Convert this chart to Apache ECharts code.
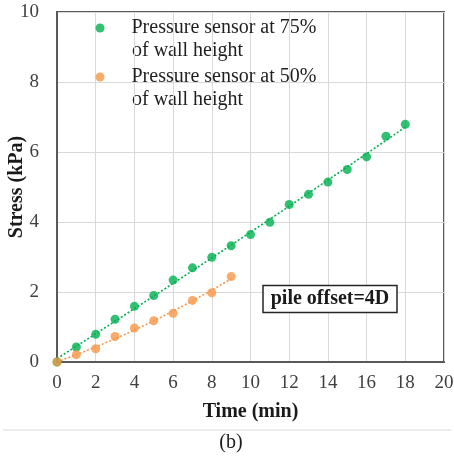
<!DOCTYPE html>
<html><head><meta charset="utf-8">
<script src="https://cdn.jsdelivr.net/npm/echarts@6/dist/echarts.min.js"></script>
<style>html,body{margin:0;padding:0;background:#fff}#c{width:454px;height:461px}</style>
</head><body><div id="c"></div>
<script>
const time75 = [0,1,2,3,4,5,6,7,8,9,10,11,12,13,14,15,16,17,18];
const stress75 = [0,0.43,0.79,1.22,1.59,1.90,2.34,2.69,2.99,3.32,3.64,3.99,4.50,4.79,5.14,5.50,5.86,6.45,6.79];
const time50 = [0,1,2,3,4,5,6,7,8,9];
const stress50 = [0,0.21,0.38,0.73,0.97,1.18,1.39,1.76,1.98,2.44];
const xTicks = [0,2,4,6,8,10,12,14,16,18,20];
const yTicks = [0,2,4,6,8,10];
const name75 = 'Pressure sensor at 75%';
const name50 = 'Pressure sensor at 50%';
const nameLine2 = 'of wall height';
const GREEN = '#00b050', ORANGE = '#f79646';

// quadratic least-squares trendline computed from the data
function quadFit(xs, ys){
  let n=xs.length,s=[0,0,0,0,0],t=[0,0,0];
  for(let i=0;i<n;i++){const x=xs[i],y=ys[i];let p=1;for(let k=0;k<5;k++){s[k]+=p;if(k<3)t[k]+=p*y;p*=x;}}
  const A=[[s[0],s[1],s[2],t[0]],[s[1],s[2],s[3],t[1]],[s[2],s[3],s[4],t[2]]];
  for(let i=0;i<3;i++){for(let j=i+1;j<3;j++){const f=A[j][i]/A[i][i];for(let k=i;k<4;k++)A[j][k]-=f*A[i][k];}}
  const c=[0,0,0];
  for(let i=2;i>=0;i--){let v=A[i][3];for(let k=i+1;k<3;k++)v-=A[i][k]*c[k];c[i]=v/A[i][i];}
  const out=[];const x0=xs[0],x1=xs[n-1];
  for(let x=x0;x<=x1+1e-9;x+=0.25)out.push([x,c[0]+c[1]*x+c[2]*x*x]);
  return out;
}
const trend75 = quadFit(time75, stress75);
const trend50 = quadFit(time50, stress50);

const chart = echarts.init(document.getElementById('c'));
const FONT = 'Liberation Serif';
const legendCommon = {
  orient:'vertical', left:95.5, padding:0, itemWidth:9, itemHeight:9, icon:'circle',
  formatter: n => '{g|}' + n,
  textStyle:{fontFamily:FONT, fontSize:20, color:'#1f1f1f', rich:{g:{width:22}}},
  selectedMode:false
};
chart.setOption({
  animation:false,
  backgroundColor:'#fff',
  grid:{left:57,right:10,top:12,bottom:99,show:true,borderColor:'#595959',borderWidth:2,outerBoundsMode:'none',containLabel:false},
  legend:[
    Object.assign({}, legendCommon, {top:29-11, data:[name75]}),
    Object.assign({}, legendCommon, {top:78-11, data:[name50]})
  ],
  xAxis:{type:'value',min:xTicks[0],max:xTicks[xTicks.length-1],interval:2,
    name:'Time (min)',nameLocation:'middle',nameGap:40,nameMoveOverlap:false,
    nameTextStyle:{fontFamily:FONT,fontSize:20,fontWeight:'bold',color:'#1a1a1a'},
    axisLine:{show:true,lineStyle:{color:'#595959',width:2}},axisTick:{show:false},
    axisLabel:{margin:12,fontFamily:FONT,fontSize:19,color:'#404040'},
    splitLine:{show:true,lineStyle:{color:'#d9d9d9',width:1}}},
  yAxis:{type:'value',min:yTicks[0],max:yTicks[yTicks.length-1],interval:2,
    name:'Stress (kPa)',nameLocation:'middle',nameGap:30,nameMoveOverlap:false,
    nameTextStyle:{fontFamily:FONT,fontSize:20,fontWeight:'bold',color:'#1a1a1a'},
    axisLine:{show:true,lineStyle:{color:'#595959',width:2}},axisTick:{show:false},
    axisLabel:{margin:18,fontFamily:FONT,fontSize:19,color:'#404040'},
    splitLine:{show:true,lineStyle:{color:'#d9d9d9',width:1}}},
  series:[
    {type:'line',data:trend75,showSymbol:false,symbol:'none',lineStyle:{color:GREEN,width:1.6,type:[2,2]},silent:true,z:2},
    {type:'line',data:trend50,showSymbol:false,symbol:'none',lineStyle:{color:ORANGE,width:1.6,type:[2,2]},silent:true,z:2},
    {name:name75,type:'scatter',data:time75.map((t,i)=>[t,stress75[i]]),symbol:'circle',symbolSize:9,itemStyle:{color:GREEN},z:3},
    {name:name50,type:'scatter',data:time50.map((t,i)=>[t,stress50[i]]),symbol:'circle',symbolSize:9,itemStyle:{color:ORANGE},z:4}
  ],
  graphic:[
    {type:'text',x:132,y:51,style:{text:nameLine2,fontFamily:FONT,fontSize:20,fill:'#1f1f1f',align:'left',verticalAlign:'middle'}},
    {type:'text',x:132,y:100,style:{text:nameLine2,fontFamily:FONT,fontSize:20,fill:'#1f1f1f',align:'left',verticalAlign:'middle'}},
    {type:'line',shape:{x1:3,y1:430,x2:451,y2:430},style:{stroke:'#d9d9d9',lineWidth:1}},
    {type:'text',x:231,y:443,style:{text:'(b)',fontFamily:FONT,fontSize:20,fill:'#1a1a1a',align:'center',verticalAlign:'middle'}},
    {type:'rect',shape:{x:263,y:285.5,width:134,height:27},style:{fill:'#fff',stroke:'#262626',lineWidth:1.5},z:10},
    {type:'text',x:330,y:299,z:11,style:{text:'pile offset=4D',fontFamily:FONT,fontSize:20,fontWeight:'bold',fill:'#1a1a1a',align:'center',verticalAlign:'middle'}}
  ]
});
</script></body></html>
